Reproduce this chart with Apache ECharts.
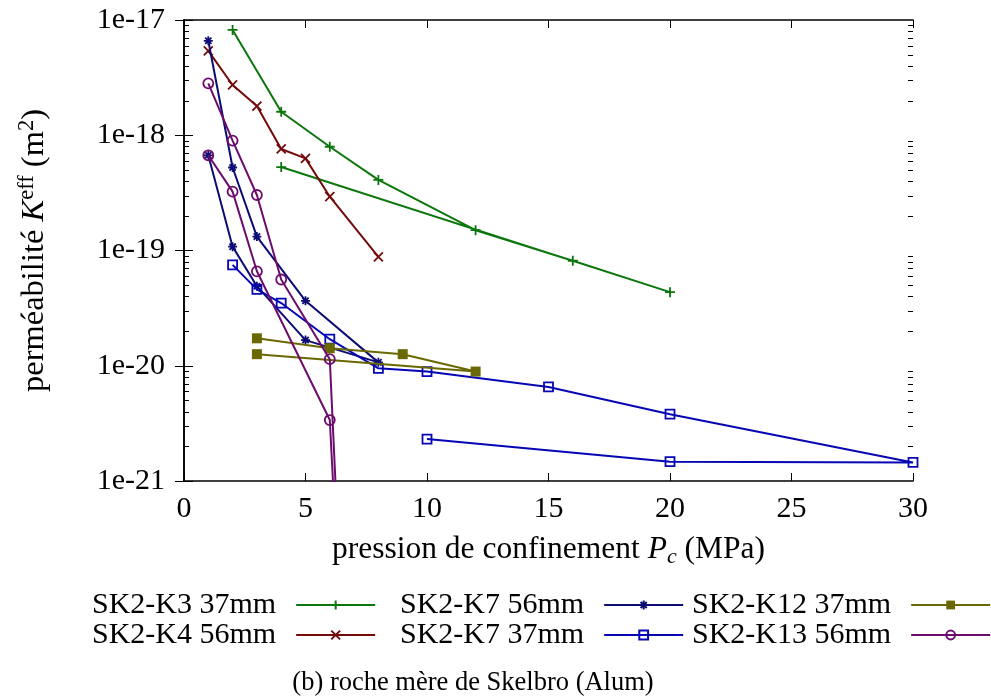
<!DOCTYPE html>
<html>
<head>
<meta charset="utf-8">
<script src="https://cdn.jsdelivr.net/npm/echarts@6/dist/echarts.min.js"></script>
<style>
  html, body { margin: 0; padding: 0; background: #ffffff; }
  #chart { width: 991px; height: 697px; }
</style>
</head>
<body>
<div id="chart"></div>
<script>
// ---------- data (permeability in m^2) ----------
const seriesNames = ['SK2-K3 37mm', 'SK2-K4 56mm', 'SK2-K7 56mm', 'SK2-K7 37mm', 'SK2-K12 37mm', 'SK2-K13 56mm'];

const k3_37_x = [2, 4, 6, 8, 12, 16, 20, 4];
const k3_37_y = [8.2e-18, 1.6e-18, 7.95e-19, 4.1e-19, 1.5e-19, 8.15e-20, 4.35e-20, 5.3e-19];

const k4_56_x = [1, 2, 3, 4, 5, 6, 8];
const k4_56_y = [5.4e-18, 2.73e-18, 1.79e-18, 7.6e-19, 6.3e-19, 2.93e-19, 8.8e-20];

const k7_56_x = [1, 2, 3, 5, 8, 5, 3, 2, 1];
const k7_56_y = [6.6e-18, 5.25e-19, 1.32e-19, 3.66e-20, 1.07e-20, 1.67e-20, 4.9e-20, 1.08e-19, 6.7e-19];

const k7_37_x = [2, 3, 4, 6, 8, 10, 15, 20, 30, 20, 10];
const k7_37_y = [7.5e-20, 4.6e-20, 3.5e-20, 1.7e-20, 9.5e-21, 8.9e-21, 6.55e-21, 3.8e-21, 1.45e-21, 1.47e-21, 2.31e-21];

const k12_37_x = [3, 6, 9, 12, 3];
const k12_37_y = [1.73e-20, 1.42e-20, 1.26e-20, 8.9e-21, 1.26e-20];

const k13_56_x = [1, 2, 3, 4, 6, 7, 6, 3, 2, 1];
const k13_56_y = [2.82e-18, 8.97e-19, 3.03e-19, 5.6e-20, 1.14e-20, 3e-25, 3.38e-21, 6.6e-20, 3.24e-19, 6.7e-19];

const xTickLabels = ['0', '5', '10', '15', '20', '25', '30'];
const yTickValues = [1e-21, 1e-20, 1e-19, 1e-18, 1e-17];
const yTickLabels = ['1e-21', '1e-20', '1e-19', '1e-18', '1e-17'];
const minorMantissas = [2, 3, 4, 5, 6, 7, 8, 9];
const minorDecades = [1e-21, 1e-20, 1e-19, 1e-18];

const xAxisName = 'pression de confinement ';
const yAxisName = 'perméabilité ';
const caption = '(b) roche mère de Skelbro (Alum)';

// plotting unit: axis works in units of 1e-21 m^2 (avoids tiny-number precision loss)
const UNIT = 1e-21;
const toUnit = v => v / UNIT;

// ---------- styling ----------
const FONT = '"Liberation Serif", "Times New Roman", serif';
const colors = ['#0b760b', '#740a0a', '#0c0c74', '#0606b4', '#6a6800', '#6c0c6c'];
const symbols = [
  'path://M0,5 L10,5 M5,0 L5,10',
  'path://M0,0 L10,10 M10,0 L0,10',
  'path://M0,5 L10,5 M5,0 L5,10 M1.5,1.5 L8.5,8.5 M8.5,1.5 L1.5,8.5',
  'path://M0,0 L10,0 L10,10 L0,10 Z',
  'rect',
  'circle'
];
const symbolSizes = [10, 9, 9, 9, 10, 10];
const filled = [false, false, false, false, true, false];

const GRID = { left: 184, right: 78, top: 20, bottom: 216 };

const xs = [k3_37_x, k4_56_x, k7_56_x, k7_37_x, k12_37_x, k13_56_x];
const ys = [k3_37_y, k4_56_y, k7_56_y, k7_37_y, k12_37_y, k13_56_y];

const xMin = 0, xMax = 30;
const yMin = toUnit(yTickValues[0]), yMax = toUnit(yTickValues[yTickValues.length - 1]);

const minorValues = [];
minorDecades.forEach(d => minorMantissas.forEach(m => minorValues.push(toUnit(m * d))));

const lineSeries = seriesNames.map((name, i) => ({
  name: name,
  type: 'line',
  data: xs[i].map((x, j) => [x, toUnit(ys[i][j])]),
  symbol: symbols[i],
  symbolSize: symbolSizes[i],
  showAllSymbol: true,
  clip: true,
  lineStyle: { color: colors[i], width: 2 },
  itemStyle: {
    color: filled[i] ? colors[i] : 'none',
    borderColor: colors[i],
    borderWidth: filled[i] ? 0 : 1.8
  },
  emphasis: { disabled: true },
  z: 2 + i
}));

const legendLefts = [92, 400, 692];
const legendTops = [590, 620];
const legends = seriesNames.map((name, i) => ({
  data: [name],
  left: legendLefts[Math.floor(i / 2)],
  top: legendTops[i % 2],
  align: 'right',
  padding: 0,
  itemWidth: 79,
  itemHeight: 11,
  selectedMode: false,
  formatter: n => '{t|' + n + '}',
  textStyle: {
    color: '#000',
    rich: { t: { fontFamily: FONT, fontSize: 30, lineHeight: 30, color: '#000', padding: [0, 15, 0, 0] } }
  }
}));

function yLabel(v) {
  const e = Math.round(Math.log10(v * UNIT));
  let best = 0;
  yTickValues.forEach((t, k) => { if (Math.round(Math.log10(t)) === e) best = k; });
  return yTickLabels[best];
}

const axisLineStyle = { show: true, lineStyle: { color: '#000', width: 1.6 } };

const captionGraphic = {
  type: 'text', x: 473, y: 683,
  style: { text: caption, fontFamily: FONT, fontSize: 26.5, fill: '#000', align: 'center', verticalAlign: 'middle' }
};

const option = {
  backgroundColor: '#ffffff',
  animation: false,
  grid: { left: GRID.left, right: GRID.right, top: GRID.top, bottom: GRID.bottom, containLabel: false, outerBoundsMode: 'none' },
  legend: legends,
  xAxis: [
    {
      type: 'value', position: 'bottom', min: xMin, max: xMax, interval: 5,
      axisLine: axisLineStyle,
      axisTick: { show: true, inside: true, length: 8, lineStyle: { color: '#000', width: 1 } },
      splitLine: { show: false },
      axisLabel: {
        margin: 13, fontFamily: FONT, fontSize: 30, color: '#000',
        formatter: v => xTickLabels[Math.round(v / 5)]
      },
      name: '{n|' + xAxisName + '}{i|P}{s|c}{n| (MPa)}',
      nameLocation: 'middle',
      nameGap: 51,
      nameTextStyle: {
        rich: {
          n: { fontFamily: FONT, fontSize: 31.5, lineHeight: 36, color: '#000' },
          i: { fontFamily: FONT, fontSize: 31.5, lineHeight: 36, fontStyle: 'italic', color: '#000' },
          s: { fontFamily: FONT, fontSize: 22, lineHeight: 22, fontStyle: 'italic', verticalAlign: 'bottom', color: '#000' }
        }
      }
    },
    {
      type: 'value', position: 'top', min: xMin, max: xMax, interval: 5,
      axisLine: axisLineStyle,
      axisTick: { show: true, inside: true, length: 8, lineStyle: { color: '#000', width: 1 } },
      splitLine: { show: false },
      axisLabel: { show: false }
    }
  ],
  yAxis: [
    {
      type: 'log', logBase: 10, position: 'left', min: yMin, max: yMax, splitNumber: 4,
      axisLine: axisLineStyle,
      axisTick: { show: true, inside: true, length: 9, lineStyle: { color: '#000', width: 1 } },
      minorTick: { show: false },
      splitLine: { show: false },
      axisLabel: { margin: 19, fontFamily: FONT, fontSize: 30, color: '#000', formatter: yLabel },
      name: '{n|' + yAxisName + '}{i|K}{p|eff}{n| (m}{p|2}{n|)}',
      nameLocation: 'middle',
      nameGap: 132,
      nameRotate: 90,
      nameTextStyle: {
        rich: {
          n: { fontFamily: FONT, fontSize: 32.5, lineHeight: 36, color: '#000' },
          i: { fontFamily: FONT, fontSize: 32.5, lineHeight: 36, fontStyle: 'italic', color: '#000' },
          p: { fontFamily: FONT, fontSize: 22.5, lineHeight: 22, verticalAlign: 'top', color: '#000' }
        }
      }
    },
    {
      type: 'log', logBase: 10, position: 'right', min: yMin, max: yMax, splitNumber: 4,
      axisLine: axisLineStyle,
      axisTick: { show: true, inside: true, length: 9, lineStyle: { color: '#000', width: 1 } },
      minorTick: { show: false },
      splitLine: { show: false },
      axisLabel: { show: false }
    }
  ],
  graphic: [captionGraphic],
  series: lineSeries
};

const chart = echarts.init(document.getElementById('chart'), null, { renderer: 'canvas' });
chart.setOption(option);

// minor log ticks (2..9 per decade) on both frame edges, placed through the y-axis scale
const leftEdge = GRID.left;
const rightEdge = chart.getWidth() - GRID.right;
const tickGraphics = [];
minorValues.forEach(v => {
  const py = chart.convertToPixel({ yAxisIndex: 0 }, v);
  if (typeof py === 'number' && isFinite(py)) {
    const y = Math.round(py);
    tickGraphics.push({ type: 'rect', zlevel: 2, z: 100, silent: true, shape: { x: leftEdge, y: y, width: 5, height: 1 }, style: { fill: '#000' } });
    tickGraphics.push({ type: 'rect', zlevel: 2, z: 100, silent: true, shape: { x: rightEdge - 5, y: y, width: 5, height: 1 }, style: { fill: '#000' } });
  }
});
chart.setOption({ graphic: [captionGraphic].concat(tickGraphics) });
</script>
</body>
</html>
